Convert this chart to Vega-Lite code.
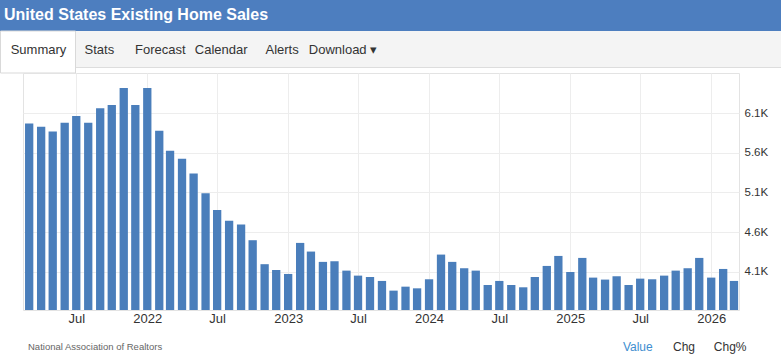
{
  "$schema": "https://vega.github.io/schema/vega-lite/v6.json",
  "padding": 0,
  "spacing": 0,
  "bounds": "flush",
  "background": "white",
  "config": {
    "view": {"stroke": null},
    "font": "Liberation Sans",
    "text": {"font": "Liberation Sans"},
    "axis": {"labelFont": "Liberation Sans"}
  },
  "vconcat": [
    {
      "width": 781,
      "height": 31,
      "view": {"fill": "#4d7ebf", "stroke": null},
      "data": {"values": [{"label": "United States Existing Home Sales"}]},
      "mark": {"type": "text", "align": "left", "baseline": "middle", "color": "white", "fontSize": 16, "fontWeight": "bold", "dy": -1},
      "encoding": {
        "x": {"field": "label", "type": "nominal", "axis": null, "scale": {"type": "point", "range": [4, 4], "padding": 0}},
        "text": {"field": "label"}
      }
    },
    {
      "width": 781,
      "height": 42,
      "view": {
        "stroke": null,
        "fill": {
          "gradient": "linear", "x1": 0, "y1": 0, "x2": 0, "y2": 1,
          "stops": [
            {"offset": 0, "color": "#f4f4f4"},
            {"offset": 0.855, "color": "#f4f4f4"},
            {"offset": 0.857, "color": "#dddddd"},
            {"offset": 0.879, "color": "#dddddd"},
            {"offset": 0.881, "color": "#ffffff"},
            {"offset": 1, "color": "#ffffff"}
          ]
        }
      },
      "data": {"values": [
        {"tab": "Summary"},
        {"tab": "Stats"},
        {"tab": "Forecast"},
        {"tab": "Calendar"},
        {"tab": "Alerts"},
        {"tab": "Download ▾"}
      ]},
      "layer": [
        {
          "transform": [{"filter": "datum.tab === 'Summary'"}],
          "mark": {"type": "bar", "color": "white", "stroke": "#d9d9d9", "strokeWidth": 1},
          "encoding": {
            "x": {"field": "tab", "type": "nominal", "axis": null, "scale": {"range": [0.5, 75.5], "paddingInner": 0, "paddingOuter": 0}}
          }
        },
        {
          "mark": {"type": "text", "baseline": "middle", "fontSize": 13, "color": "#333333", "dy": -2.5},
          "encoding": {
            "x": {"field": "tab", "type": "nominal", "axis": null, "sort": null, "scale": {"type": "point", "range": [38.5, 343], "padding": 0}},
            "text": {"field": "tab"}
          }
        }
      ],
      "resolve": {"scale": {"x": "independent"}}
    },
    {
      "hconcat": [
        {
          "width": 23,
          "height": 237,
          "view": {"stroke": null},
          "data": {"values": []},
          "mark": "point"
        },
        {
          "vconcat": [
            {
              "width": 716,
              "height": 237,
              "view": {"stroke": "#e3e3e3", "fill": "white"},
              "data": {"values": [
                {"date": "2021-03-01", "value": 5970},
                {"date": "2021-04-01", "value": 5929},
                {"date": "2021-05-01", "value": 5869},
                {"date": "2021-06-01", "value": 5979},
                {"date": "2021-07-01", "value": 6064},
                {"date": "2021-08-01", "value": 5979},
                {"date": "2021-09-01", "value": 6160},
                {"date": "2021-10-01", "value": 6202},
                {"date": "2021-11-01", "value": 6417},
                {"date": "2021-12-01", "value": 6202},
                {"date": "2022-01-01", "value": 6417},
                {"date": "2022-02-01", "value": 5878},
                {"date": "2022-03-01", "value": 5626},
                {"date": "2022-04-01", "value": 5525},
                {"date": "2022-05-01", "value": 5340},
                {"date": "2022-06-01", "value": 5092},
                {"date": "2022-07-01", "value": 4878},
                {"date": "2022-08-01", "value": 4743},
                {"date": "2022-09-01", "value": 4696},
                {"date": "2022-10-01", "value": 4499},
                {"date": "2022-11-01", "value": 4197},
                {"date": "2022-12-01", "value": 4125},
                {"date": "2023-01-01", "value": 4074},
                {"date": "2023-02-01", "value": 4465},
                {"date": "2023-03-01", "value": 4356},
                {"date": "2023-04-01", "value": 4226},
                {"date": "2023-05-01", "value": 4234},
                {"date": "2023-06-01", "value": 4116},
                {"date": "2023-07-01", "value": 4053},
                {"date": "2023-08-01", "value": 4036},
                {"date": "2023-09-01", "value": 3986},
                {"date": "2023-10-01", "value": 3864},
                {"date": "2023-11-01", "value": 3914},
                {"date": "2023-12-01", "value": 3893},
                {"date": "2024-01-01", "value": 4007},
                {"date": "2024-02-01", "value": 4318},
                {"date": "2024-03-01", "value": 4226},
                {"date": "2024-04-01", "value": 4146},
                {"date": "2024-05-01", "value": 4116},
                {"date": "2024-06-01", "value": 3935},
                {"date": "2024-07-01", "value": 3986},
                {"date": "2024-08-01", "value": 3935},
                {"date": "2024-09-01", "value": 3906},
                {"date": "2024-10-01", "value": 4036},
                {"date": "2024-11-01", "value": 4175},
                {"date": "2024-12-01", "value": 4301},
                {"date": "2025-01-01", "value": 4099},
                {"date": "2025-02-01", "value": 4276},
                {"date": "2025-03-01", "value": 4028},
                {"date": "2025-04-01", "value": 4003},
                {"date": "2025-05-01", "value": 4045},
                {"date": "2025-06-01", "value": 3935},
                {"date": "2025-07-01", "value": 4015},
                {"date": "2025-08-01", "value": 4007},
                {"date": "2025-09-01", "value": 4053},
                {"date": "2025-10-01", "value": 4116},
                {"date": "2025-11-01", "value": 4146},
                {"date": "2025-12-01", "value": 4276},
                {"date": "2026-01-01", "value": 4028},
                {"date": "2026-02-01", "value": 4137},
                {"date": "2026-03-01", "value": 3986}
              ]},
              "mark": {"type": "bar", "width": 8.3, "color": "#4a7ebb"},
              "encoding": {
                "x": {
                  "field": "date",
                  "type": "temporal",
                  "scale": {
                    "type": "utc",
                    "padding": 0,
                    "domain": [
                      {"year": 2021, "month": 2, "date": 13, "utc": true},
                      {"year": 2026, "month": 3, "date": 14, "utc": true}
                    ]
                  },
                  "axis": {
                    "title": null,
                    "values": [
                      {"year": 2021, "month": 7, "date": 1, "utc": true},
                      {"year": 2022, "month": 1, "date": 1, "utc": true},
                      {"year": 2022, "month": 7, "date": 1, "utc": true},
                      {"year": 2023, "month": 1, "date": 1, "utc": true},
                      {"year": 2023, "month": 7, "date": 1, "utc": true},
                      {"year": 2024, "month": 1, "date": 1, "utc": true},
                      {"year": 2024, "month": 7, "date": 1, "utc": true},
                      {"year": 2025, "month": 1, "date": 1, "utc": true},
                      {"year": 2025, "month": 7, "date": 1, "utc": true},
                      {"year": 2026, "month": 1, "date": 1, "utc": true}
                    ],
                    "labelExpr": "utcmonth(datum.value) === 0 ? utcFormat(datum.value, '%Y') : 'Jul'",
                    "grid": true,
                    "gridColor": "#ededed",
                    "ticks": false,
                    "tickSize": 0,
                    "domain": false,
                    "labelPadding": 2,
                    "labelFontSize": 13,
                    "labelColor": "#333333",
                    "labelFlush": false,
                    "labelOverlap": false
                  }
                },
                "y": {
                  "field": "value",
                  "type": "quantitative",
                  "scale": {"domain": [3620, 6605], "zero": false, "nice": false, "clamp": true},
                  "axis": {
                    "orient": "right",
                    "title": null,
                    "values": [4100, 4600, 5100, 5600, 6100],
                    "labelExpr": "format(datum.value / 1000, '.1f') + 'K'",
                    "grid": true,
                    "gridColor": "#ededed",
                    "ticks": false,
                    "tickSize": 0,
                    "domain": false,
                    "labelPadding": 5,
                    "labelFontSize": 11.5,
                    "labelColor": "#333333"
                  }
                }
              }
            },
            {
              "width": 758,
              "height": 54,
              "view": {"stroke": null},
              "layer": [
                {
                  "data": {"values": [{"src": "National Association of Realtors"}]},
                  "mark": {"type": "text", "align": "left", "baseline": "middle", "fontSize": 9.5, "color": "#666666", "dy": 10},
                  "encoding": {
                    "x": {"field": "src", "type": "nominal", "axis": null, "scale": {"type": "point", "range": [5, 5], "padding": 0}},
                    "text": {"field": "src"}
                  }
                },
                {
                  "data": {"values": [{"k": "Value"}, {"k": "Chg"}, {"k": "Chg%"}]},
                  "mark": {"type": "text", "baseline": "middle", "fontSize": 12, "dy": 10},
                  "encoding": {
                    "x": {"field": "k", "type": "nominal", "axis": null, "sort": null, "scale": {"type": "point", "range": [614.8, 707.2], "padding": 0}},
                    "text": {"field": "k"},
                    "color": {"field": "k", "type": "nominal", "legend": null, "scale": {"domain": ["Value", "Chg", "Chg%"], "range": ["#3d8ed0", "#333333", "#333333"]}}
                  }
                }
              ],
              "resolve": {"scale": {"x": "independent"}}
            }
          ],
          "spacing": 0,
          "bounds": "flush"
        }
      ],
      "spacing": 0,
      "bounds": "flush"
    }
  ]
}
